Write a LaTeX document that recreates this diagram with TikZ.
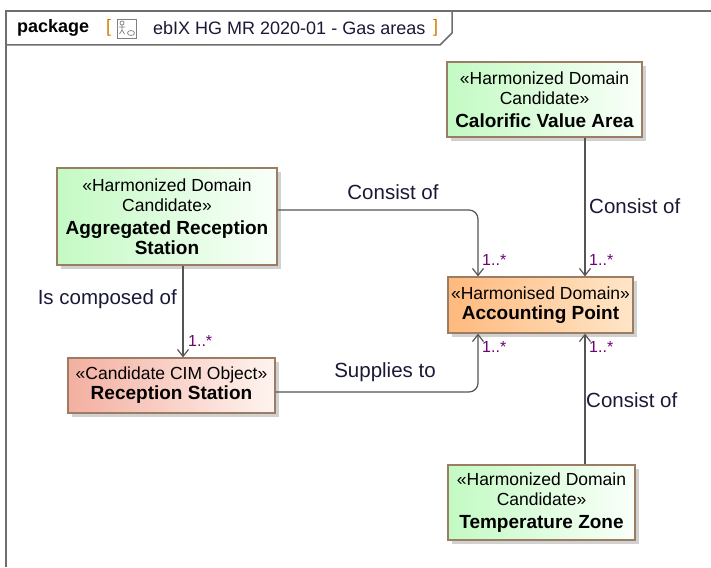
\documentclass[tikz,border=0pt]{standalone}
\usepackage{fontspec}
\setmainfont{Liberation Sans}
\usepackage{tikz}
\usetikzlibrary{arrows.meta,positioning,shadows}
\tikzset{every node/.append style={align=center}}
\definecolor{frameline}{RGB}{110,110,110}
\definecolor{boxline}{RGB}{155,125,100}
\definecolor{greenleft}{RGB}{195,250,195}
\definecolor{greenright}{RGB}{250,255,250}
\definecolor{orangeleft}{RGB}{255,185,125}
\definecolor{orangeright}{RGB}{255,230,200}
\definecolor{pinkleft}{RGB}{243,175,160}
\definecolor{pinkright}{RGB}{255,244,240}
\definecolor{connline}{RGB}{85,85,85}
\definecolor{multcolor}{RGB}{110,0,120}
\definecolor{labelcolor}{RGB}{25,25,55}
\definecolor{bracketcolor}{RGB}{210,125,0}
\newcommand{\stereo}[1]{{\fontsize{17.5}{20}\selectfont #1}}
\newcommand{\cname}[1]{{\fontsize{19}{20}\selectfont\bfseries #1}}
\tikzset{
  classbox/.style={draw=boxline, line width=1.2pt, inner sep=3pt, font=\fontsize{17.5}{20}\selectfont,
    drop shadow={shadow xshift=4pt, shadow yshift=-4pt, fill=black!18, opacity=1}},
  candidate/.style={classbox, left color=greenleft, right color=greenright},
  harmonised/.style={classbox, left color=orangeleft, right color=orangeright},
  cimobject/.style={classbox, left color=pinkleft, right color=pinkright},
  conn/.style={draw=connline, line width=1.2pt, rounded corners=9pt, -{Straight Barb[length=7pt, width=11pt]}},
  connlabel/.style={font=\fontsize{20.5}{22}\selectfont, text=labelcolor, inner sep=0pt},
  mult/.style={font=\fontsize{16}{18}\selectfont, text=multcolor, inner sep=0pt, anchor=west},
  titletext/.style={font=\fontsize{18}{20}\selectfont, inner sep=0pt, anchor=west}
}
\begin{document}
\begin{tikzpicture}[x=1pt, y=-1pt]
        \useasboundingbox (0,0) rectangle (711,567);

        % Package frame and tab
        \draw[frameline, line width=1.5pt] (6,567) -- (6,11) -- (711,11);
        \draw[frameline, line width=1.5pt] (6,45) -- (440,45) -- (452,33) -- (452,11);
        \node[titletext, font=\fontsize{18}{20}\selectfont\bfseries] (pkg) at (17,28) {package};
        \node[titletext, text=bracketcolor] (lbr) at (106,28) {[};
        \node[draw=gray, fill=white, line width=0.8pt, minimum width=19pt, minimum height=19pt, inner sep=0pt] (icon) at (127,28.5) {};
        \draw[gray, line width=0.7pt] (122,23) circle (2pt) (122,25) -- (122,30) (119,27) -- (125,27) (122,30) -- (119.5,34) (122,30) -- (124.5,34);
        \draw[gray, line width=0.7pt] (131,33) ellipse (3.5pt and 2.5pt);
        \node[titletext, text=labelcolor] (ttl) at (153,28) {ebIX HG MR 2020-01 - Gas areas};
        \node[titletext, text=bracketcolor] (rbr) at (433,28) {]};

        % Classes
        \node[candidate, minimum width=220pt, minimum height=97pt] (ars) at (167,216.5)
            {\stereo{«Harmonized Domain}\\\stereo{Candidate»}\\[3pt]\cname{Aggregated Reception}\\\cname{Station}};
        \node[candidate, minimum width=195pt, minimum height=75pt] (cva) at (544.5,99.5)
            {\stereo{«Harmonized Domain}\\\stereo{Candidate»}\\[3pt]\cname{Calorific Value Area}};
        \node[harmonised, minimum width=185pt, minimum height=56pt] (ap) at (540.5,305)
            {\stereo{«Harmonised Domain»}\\\cname{Accounting Point}};
        \node[cimobject, minimum width=207pt, minimum height=55pt] (rs) at (171.5,385.5)
            {\stereo{«Candidate CIM Object»}\\\cname{Reception Station}};
        \node[candidate, minimum width=187pt, minimum height=75pt] (tz) at (541.5,502.5)
            {\stereo{«Harmonized Domain}\\\stereo{Candidate»}\\[3pt]\cname{Temperature Zone}};

        % Connector lanes
        \coordinate (laneL) at (478,0);
        \coordinate (laneR) at (585,0);
        \coordinate (laneM) at (183,0);
        \coordinate (rowA) at (0,210);
        \coordinate (rowB) at (0,392);

        % Associations
        \draw[conn] (ars.east |- rowA) -| (ap.north -| laneL);
        \draw[conn] (cva.south -| laneR) -- (ap.north -| laneR);
        \draw[conn] (ars.south -| laneM) -- (rs.north -| laneM);
        \draw[conn] (rs.east |- rowB) -| (ap.south -| laneL);
        \draw[conn] (tz.north -| laneR) -- (ap.south -| laneR);

        % Labels
        \node[connlabel] (l1) at (393,192) {Consist of};
        \node[connlabel, anchor=west] (l2) at (589,206) {Consist of};
        \node[connlabel, anchor=east] (l3) at (177,299) {Is composed of};
        \node[connlabel] (l4) at (385,372) {Supplies to};
        \node[connlabel, anchor=west] (l5) at (586,400) {Consist of};

        % Multiplicities
        \node[mult] (m1) at (482,260) {1..*};
        \node[mult] (m2) at (589,260) {1..*};
        \node[mult] (m3) at (188,341) {1..*};
        \node[mult] (m4) at (482,347) {1..*};
        \node[mult] (m5) at (589,347) {1..*};
\end{tikzpicture}
\end{document}
